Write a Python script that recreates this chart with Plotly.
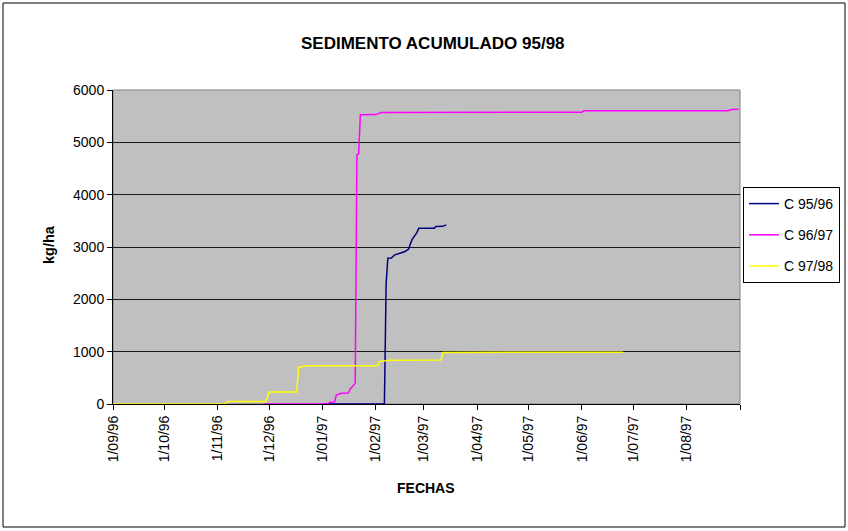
import plotly.graph_objects as go

# C 95/96 (plotted on the common Sep-Aug date axis)
c9596_dates = ["1997-01-01", "1997-02-06", "1997-02-07", "1997-02-08", "1997-02-10", "1997-02-11",
               "1997-02-12", "1997-02-15", "1997-02-18", "1997-02-20", "1997-02-21", "1997-02-22",
               "1997-02-24", "1997-02-25", "1997-02-26", "1997-03-07", "1997-03-08", "1997-03-12",
               "1997-03-14"]
c9596_vals = [0, 0, 2300, 2785, 2790, 2817, 2849, 2881, 2913, 2958, 3060, 3136, 3231, 3280, 3359,
              3360, 3391, 3395, 3423]

c9697_dates = ["1996-11-28", "1997-01-04", "1997-01-05", "1997-01-08", "1997-01-09", "1997-01-12",
               "1997-01-16", "1997-01-17", "1997-01-20", "1997-01-21", "1997-01-22", "1997-01-23",
               "1997-02-01", "1997-02-04", "1997-06-01", "1997-06-02", "1997-08-25", "1997-08-27",
               "1997-08-31"]
c9697_vals = [0, 0, 30, 40, 172, 204, 210, 281, 395, 4760, 4780, 5526, 5530, 5570, 5575, 5602,
              5605, 5627, 5630]

c9798_dates = ["1996-09-01", "1996-11-05", "1996-11-07", "1996-11-29", "1996-12-01", "1996-12-17",
               "1996-12-18", "1996-12-23", "1997-02-02", "1997-02-03", "1997-02-09", "1997-03-11",
               "1997-03-12", "1997-06-25"]
c9798_vals = [0, 0, 50, 50, 230, 230, 700, 730, 730, 810, 835, 840, 985, 990]

tick_dates = ["1996-09-01", "1996-10-01", "1996-11-01", "1996-12-01", "1997-01-01", "1997-02-01",
              "1997-03-01", "1997-04-01", "1997-05-01", "1997-06-01", "1997-07-01", "1997-08-01",
              "1997-09-01"]
tick_labels = ["1/09/96", "1/10/96", "1/11/96", "1/12/96", "1/01/97", "1/02/97", "1/03/97",
               "1/04/97", "1/05/97", "1/06/97", "1/07/97", "1/08/97", ""]

FONT = "Arial, Liberation Sans, sans-serif"

fig = go.Figure()
fig.add_trace(go.Scatter(x=c9596_dates, y=c9596_vals, mode="lines", name="C 95/96",
                         line=dict(color="#000080", width=1.5), legendgroup="a"))
fig.add_trace(go.Scatter(x=c9697_dates, y=c9697_vals, mode="lines", name="C 96/97",
                         line=dict(color="#FF00FF", width=1.5), legendgroup="b"))
fig.add_trace(go.Scatter(x=c9798_dates, y=c9798_vals, mode="lines", name="C 97/98",
                         line=dict(color="#FFFF00", width=1.5), legendgroup="c"))

L, R, T, B = 113, 108, 90, 127
W, H = 848, 531
pw, ph = W - L - R, H - T - B

def px(x):
    return (x - L) / pw

def py(y):
    return (H - B - y) / ph

fig.update_layout(
    width=W, height=H,
    margin=dict(l=L, r=R, t=T, b=B, autoexpand=False),
    paper_bgcolor="white",
    plot_bgcolor="#C0C0C0",
    font=dict(family=FONT, size=14, color="black"),
    showlegend=True,
    legend=dict(x=px(743), y=py(187), xanchor="left", yanchor="top",
                bgcolor="white", bordercolor="black", borderwidth=1,
                font=dict(family=FONT, size=14), tracegroupgap=10,
                itemwidth=30),
    xaxis=dict(type="date", range=["1996-09-01", "1997-09-01"],
               tickmode="array", tickvals=tick_dates, ticktext=tick_labels,
               tickangle=-90, ticks="outside", ticklen=5, tickcolor="black",
               showgrid=False, zeroline=False, showline=True, linecolor="black",
               linewidth=1, tickfont=dict(size=14)),
    yaxis=dict(range=[0, 6000], dtick=1000, ticks="outside", ticklen=5, tickcolor="black",
               showgrid=True, gridcolor="#1a1a1a", gridwidth=1, zeroline=False,
               showline=True, linecolor="black", linewidth=1, tickfont=dict(size=14)),
    shapes=[
        dict(type="rect", xref="paper", yref="paper", x0=0, x1=1, y0=0, y1=1,
             line=dict(color="#808080", width=1), layer="below"),
        dict(type="rect", xref="paper", yref="paper", x0=px(3), x1=px(845), y0=py(527), y1=py(3),
             line=dict(color="black", width=1)),
    ],
    annotations=[
        dict(text="<b>SEDIMENTO ACUMULADO 95/98</b>", xref="paper", yref="paper",
             x=px(433), y=py(32), showarrow=False, font=dict(size=17)),
        dict(text="<b>kg/ha</b>", xref="paper", yref="paper", x=px(39), y=py(245),
             showarrow=False, textangle=-90, font=dict(size=14.5)),
        dict(text="<b>FECHAS</b>", xref="paper", yref="paper", x=px(426), y=py(498),
             showarrow=False, font=dict(size=14)),
    ],
)

fig.write_html("out.html", config={"displayModeBar": False},
               post_script="document.body.style.margin='0px';document.body.style.overflow='hidden';")
